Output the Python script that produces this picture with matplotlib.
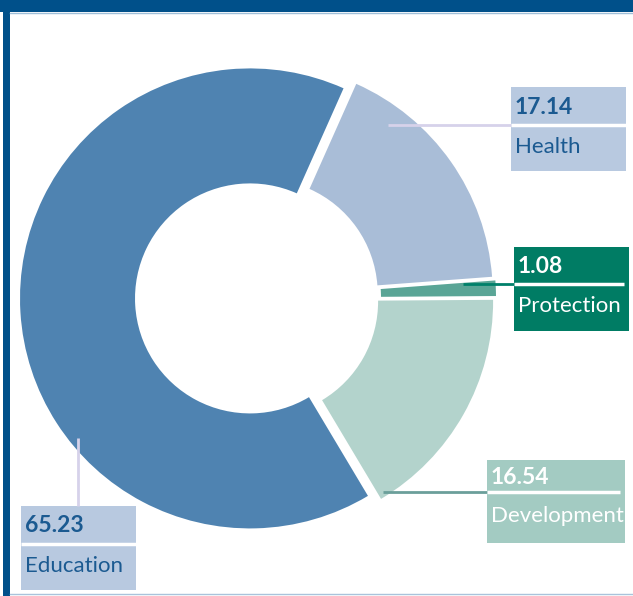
import matplotlib.pyplot as plt
from matplotlib.patches import Rectangle

# --- Data ---
sectors = ['Health', 'Protection', 'Development', 'Education']
shares = [17.14, 1.08, 16.54, 65.23]
slice_colors = ['#a9bdd7', '#5aa596', '#b3d3cc', '#4f83b1']

# --- Canvas in pixel units (y measured from the top) ---
W, H = 633, 596
fig = plt.figure(figsize=(W / 100, H / 100), dpi=100)
ax = fig.add_axes([0, 0, 1, 1])


def fy(y):
    return H - y


plt.rcParams['font.family'] = ['Lato', 'DejaVu Sans']

ax.pie(shares, colors=slice_colors, startangle=66, counterclock=False,
       radius=230, center=(257, fy(298)), explode=[7, 9, 7, 7],
       wedgeprops=dict(width=115, linewidth=0))
ax.set_xlim(0, W)
ax.set_ylim(0, H)
ax.set_aspect('auto')
ax.axis('off')

# frame: dark bar on top and left, thin light rules
ax.add_patch(Rectangle((0, fy(12)), W, 12, color='#00508a', lw=0))
ax.add_patch(Rectangle((3, 0), 7, H, color='#00508a', lw=0))
ax.plot([10, W], [fy(12.5), fy(12.5)], color='#9fbfd9', lw=1)
ax.plot([10, W], [fy(594), fy(594)], color='#a9c3db', lw=1)

# callout boxes: (x0, y0, x1, y1, rule_y, rule_end, box colour, text colour,
#                 leader line, leader colour)
callouts = {
    'Health': (511, 87, 626, 171, 125, 626, '#b8c9e0', '#1b5a91',
               ([388, 511], [125, 125]), '#d6d2ea'),
    'Protection': (514, 247, 629, 331, 284, 624, '#007c64', 'white',
                   ([463, 514], [284, 284]), '#00806a'),
    'Development': (487, 460, 625, 543, 492, 620, '#a3cbc2', 'white',
                    ([383, 487], [492, 492]), '#6b9f9a'),
    'Education': (21, 506, 136, 590, 544, 136, '#b8c9e0', '#1b5a91',
                  ([78, 78], [438, 506]), '#d6d2ea'),
}

for name, val in zip(sectors, shares):
    x0, y0, x1, y1, ry, re, bc, tc, (lx, ly), lc = callouts[name]
    ax.add_patch(Rectangle((x0, fy(y1)), x1 - x0, y1 - y0, color=bc, lw=0))
    ax.plot(lx, [fy(v) for v in ly], color=lc, lw=2, solid_capstyle='butt')
    ax.plot([x0, re], [fy(ry), fy(ry)], color='white', lw=2.5,
            solid_capstyle='butt')
    ax.text(x0 + 4, fy((y0 + ry) / 2 + 1), f'{val:.2f}', color=tc,
            fontsize=16.5, fontweight='bold', va='center', ha='left')
    ax.text(x0 + 4, fy((ry + y1) / 2 - 1), name, color=tc,
            fontsize=16, va='center', ha='left')

fig.savefig('out.png', dpi=100, facecolor='white')
